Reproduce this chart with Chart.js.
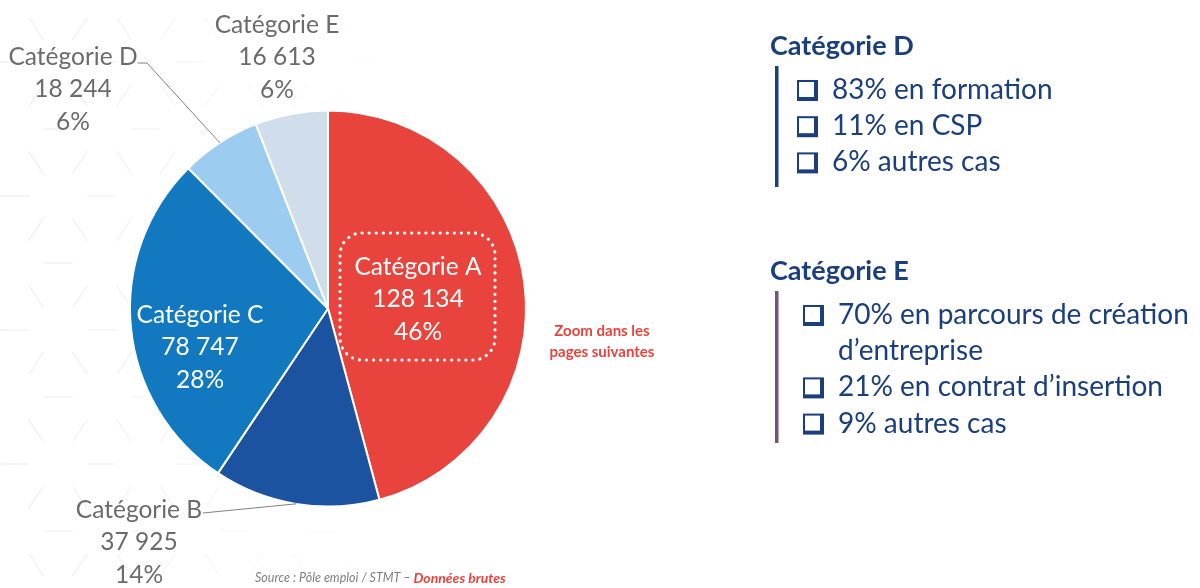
<!DOCTYPE html>
<html lang="fr">
<head>
<meta charset="utf-8">
<title>Demandeurs d'emploi par catégorie</title>
<script src="https://cdn.jsdelivr.net/npm/chart.js@4.4.1/dist/chart.umd.min.js"></script>
<style>
  html, body { margin: 0; padding: 0; background: #ffffff; }
  #wrap { width: 1200px; height: 588px; position: relative; }
</style>
</head>
<body>
<div id="wrap"><canvas id="pieChart" width="1200" height="588"></canvas></div>
<script>
// Données - Source : Pôle emploi / STMT, données brutes
const categories = ['Catégorie A', 'Catégorie B', 'Catégorie C', 'Catégorie D', 'Catégorie E'];
const effectifs = [128134, 37925, 78747, 18244, 16613];
const pourcentages = [46, 14, 28, 6, 6];
const sliceColors = ['#e8433c', '#1b53a0', '#1279c0', '#9ccdf0', '#d0deec'];

// Détail des catégories D et E (panneau de droite)
const detailD = [['83% en formation'], ['11% en CSP'], ['6% autres cas']];
const detailE = [['70% en parcours de création', 'd’entreprise'], ['21% en contrat d’insertion'], ['9% autres cas']];

const FONT = 'Lato, "Open Sans", sans-serif';
const NAVY = '#1b3e7c';
const RED = '#e8433c';
const GREY = '#6b6b6b';

// position of each label block (centre of the first line), leader start points
const labelLayout = [
  { x: 418, y: 267, color: '#ffffff' },
  { x: 139, y: 510, color: GREY, leader: [[203, 513]] },
  { x: 200, y: 315, color: '#ffffff' },
  { x: 73, y: 57, color: GREY, leader: [[138, 63], [147, 63]] },
  { x: 277, y: 25, color: GREY }
];

const fmt = v => String(v).replace(/\B(?=(\d{3})+(?!\d))/g, ' ');

// faint hexagon lattice in the background
const hexPattern = {
  id: 'hexPattern',
  beforeDraw(chart) {
    const ctx = chart.ctx;
    const edge = 88, rowH = 67;
    ctx.save();
    const grad = ctx.createLinearGradient(0, 0, 400, 0);
    grad.addColorStop(0, 'rgba(0,0,0,0.07)');
    grad.addColorStop(1, 'rgba(0,0,0,0)');
    ctx.strokeStyle = grad;
    ctx.lineWidth = 1.2;
    const seg = (x1, y1, x2, y2) => {
      ctx.beginPath();
      ctx.moveTo(x1 + (x2 - x1) / 3, y1 + (y2 - y1) / 3);
      ctx.lineTo(x1 + 2 * (x2 - x1) / 3, y1 + 2 * (y2 - y1) / 3);
      ctx.stroke();
    };
    for (let r = -1; r < 9; r++) {
      const y = 62 + r * rowH;
      const off = (r % 2 === 0) ? 58 : 14;
      for (let c = -1; c < 6; c++) {
        const x = off + c * edge;
        seg(x, y, x + edge, y);
        seg(x, y, x - edge / 2, y + rowH);
        seg(x, y, x + edge / 2, y + rowH);
      }
    }
    ctx.restore();
  }
};

const pieLabels = {
  id: 'pieLabels',
  afterDatasetsDraw(chart) {
    const ctx = chart.ctx;
    const arcs = chart.getDatasetMeta(0).data;
    ctx.save();

    // dotted frame around the Catégorie A label
    const a = labelLayout[0];
    ctx.strokeStyle = '#ffffff';
    ctx.lineWidth = 3.2;
    ctx.lineCap = 'round';
    ctx.setLineDash([0.1, 7]);
    ctx.beginPath();
    ctx.roundRect(a.x - 78, a.y - 34, 155, 127, 22);
    ctx.stroke();
    ctx.setLineDash([]);

    ctx.textAlign = 'center';
    ctx.textBaseline = 'middle';
    arcs.forEach((arc, i) => {
      const L = labelLayout[i];
      if (L.leader) {
        const mid = (arc.startAngle + arc.endAngle) / 2;
        const ex = arc.x + Math.cos(mid) * arc.outerRadius;
        const ey = arc.y + Math.sin(mid) * arc.outerRadius;
        ctx.strokeStyle = '#808080';
        ctx.lineWidth = 1;
        ctx.beginPath();
        ctx.moveTo(L.leader[0][0], L.leader[0][1]);
        L.leader.slice(1).forEach(p => ctx.lineTo(p[0], p[1]));
        ctx.lineTo(ex, ey);
        ctx.stroke();
      }
      const lines = [categories[i], fmt(effectifs[i]), pourcentages[i] + '%'];
      ctx.fillStyle = L.color;
      ctx.font = '24.5px ' + FONT;
      lines.forEach((t, k) => ctx.fillText(t, L.x, L.y + k * 32.5));
    });

    // note next to the pie
    ctx.fillStyle = RED;
    ctx.font = 'bold 15px ' + FONT;
    ctx.fillText('Zoom dans les', 602, 331);
    ctx.fillText('pages suivantes', 602, 352);

    // source line
    ctx.textAlign = 'left';
    ctx.font = 'italic 12.5px ' + FONT;
    ctx.fillStyle = '#808080';
    const src = 'Source : Pôle emploi / STMT – ';
    ctx.fillText(src, 255, 578);
    const w = ctx.measureText(src).width;
    ctx.font = 'italic bold 14px ' + FONT;
    ctx.fillStyle = RED;
    ctx.fillText('Données brutes', 255 + w, 578);
    ctx.restore();
  }
};

function drawBox(ctx, x, cy) {
  const y = cy - 10;
  ctx.fillStyle = NAVY;
  ctx.fillRect(x, y, 21, 21);
  ctx.fillStyle = '#ffffff';
  ctx.fillRect(x + 2, y + 2, 15, 15);
}

function drawBlock(ctx, title, items, top, barColor, boxX, textX, barBottom) {
  ctx.fillStyle = NAVY;
  ctx.font = 'bold 27px ' + FONT;
  ctx.fillText(title, 770, top);
  ctx.fillStyle = barColor;
  ctx.fillRect(775, top + 20, 3.5, barBottom - top - 20);
  ctx.font = '28px ' + FONT;
  let y = top + 44;
  items.forEach(lines => {
    drawBox(ctx, boxX, y);
    ctx.fillStyle = NAVY;
    lines.forEach(t => {
      ctx.fillText(t, textX, y);
      y += 36.2;
    });
  });
}

const sidePanel = {
  id: 'sidePanel',
  afterDraw(chart) {
    const ctx = chart.ctx;
    ctx.save();
    ctx.textAlign = 'left';
    ctx.textBaseline = 'middle';
    drawBlock(ctx, 'Catégorie D', detailD, 46, NAVY, 797, 832, 187);
    drawBlock(ctx, 'Catégorie E', detailE, 271, '#7b4f80', 803, 838, 443);
    ctx.restore();
  }
};

new Chart(document.getElementById('pieChart'), {
  type: 'pie',
  data: {
    labels: categories,
    datasets: [{
      data: effectifs,
      backgroundColor: sliceColors,
      borderColor: '#ffffff',
      borderWidth: 2
    }]
  },
  options: {
    responsive: false,
    animation: false,
    devicePixelRatio: 1,
    layout: { padding: { left: 129, right: 673, top: 109, bottom: 80 } },
    plugins: {
      legend: { display: false },
      tooltip: { enabled: false }
    }
  },
  plugins: [hexPattern, pieLabels, sidePanel]
});
</script>
</body>
</html>
